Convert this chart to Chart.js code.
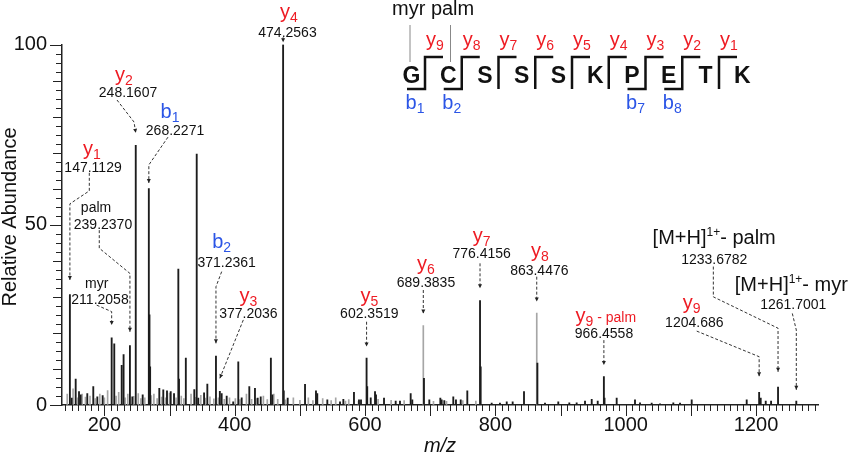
<!DOCTYPE html>
<html>
<head>
<meta charset="utf-8">
<script src="https://cdn.jsdelivr.net/npm/chart.js@4.4.1/dist/chart.umd.min.js"></script>
<style>
  html, body { margin: 0; padding: 0; background: #fff; }
  #wrap { width: 850px; height: 459px; }
</style>
</head>
<body>
<div id="wrap"><canvas id="spectrum" width="850" height="459"></canvas></div>
<script>
// spectrum peaks: m/z and relative abundance (%)
const peakMz = [
  147.11, 149.9, 156.0, 161.1, 163.7, 173.8, 183.0, 189.2, 197.4, 211.21,
  215.2, 226.6, 229.5, 239.24, 242.9, 248.16, 258.8, 268.23, 269.23, 270.23,
  284.3, 290.4, 296.1, 301.8, 306.9, 313.5, 314.5, 325.0, 338.0, 341.7,
  344.1, 353.0, 358.0, 371.24, 377.20, 380.0, 387.7, 397.7, 405.5, 410.7,
  422.4, 431.1, 435.3, 439.9, 455.5, 457.7, 474.26, 475.26, 481.3, 507.9,
  524.7, 526.7, 542.1, 561.6, 566.7, 583.0, 590.7, 593.8, 602.35, 603.35,
  608.7, 615.3, 616.8, 629.1, 647.0, 653.6, 670.0, 672.5, 690.39, 698.6,
  715.5, 717.6, 721.6, 735.4, 739.5, 746.8, 756.9, 776.42, 777.42, 794.3,
  807.0, 817.4, 826.5, 843.9, 864.45, 876.1, 896.5, 913.4, 924.7, 937.5,
  947.8, 957.0, 966.46, 967.46, 986.1, 1014.2, 1021.9, 1039.8, 1052.6, 1073.0,
  1083.3, 1101.2, 1185.6, 1204.69, 1207.1, 1214.8, 1223.0, 1233.68, 1261.70
];
const peakAbund = [
  30.6, 1.9, 7.2, 3.7, 2.8, 3.2, 5.1, 2.3, 2.6, 18.6,
  17.0, 11.0, 14.0, 16.5, 2.3, 72.0, 2.8, 60.0, 25.0, 10.6,
  4.6, 4.2, 3.9, 3.7, 3.2, 37.7, 7.2, 13.0, 4.3, 69.6,
  1.9, 3.4, 5.8, 13.6, 3.8, 3.2, 2.5, 0.9, 12.0, 2.0,
  5.1, 4.6, 1.9, 2.3, 13.0, 2.8, 100.0, 3.9, 1.9, 5.7,
  3.9, 3.2, 1.4, 0.9, 1.6, 3.5, 1.4, 1.4, 13.0, 5.1,
  2.0, 3.7, 2.8, 1.9, 1.1, 1.1, 3.2, 1.4, 7.4, 1.4,
  1.9, 1.4, 1.2, 2.3, 1.4, 1.4, 3.9, 29.0, 10.6, 0.5,
  0.5, 0.9, 0.9, 3.7, 11.6, 0.5, 0.9, 0.6, 0.6, 1.1,
  1.6, 1.1, 7.9, 1.9, 1.9, 1.4, 0.6, 0.5, 0.3, 0.6,
  0.5, 1.4, 1.4, 3.5, 1.9, 1.1, 1.1, 5.0, 1.1
];
// lighter (grey) traces
const faintMz = [
  143, 152, 159, 166, 171, 178, 186, 193, 200, 205, 218, 222, 232, 236, 245, 252,
  256, 262, 272, 276, 281, 288, 294, 300, 310, 318, 322, 333, 340, 348, 355,
  362, 368, 375, 384, 392, 401, 408, 418, 426, 434, 444, 450, 460, 466, 478,
  490, 500, 513, 520, 535, 548, 555, 570, 575, 590, 620, 640, 660, 689.38,
  705, 725, 750, 770, 863.45
];
const faintAbund = [
  3.0, 4.5, 2.0, 3.0, 2.2, 2.5, 1.8, 3.0, 2.0, 4.0, 2.5, 3.5, 2.0, 3.0, 2.4, 3.2,
  1.8, 2.0, 2.6, 3.0, 1.8, 2.2, 2.0, 3.3, 2.0, 2.5, 1.8, 3.0, 2.1, 2.7, 1.9,
  2.3, 1.7, 2.0, 1.6, 2.0, 1.8, 1.5, 3.0, 1.6, 1.8, 2.5, 1.5, 3.0, 1.6, 1.4,
  2.0, 1.3, 2.0, 1.2, 1.8, 1.2, 2.0, 1.1, 1.5, 1.0, 1.6, 1.3, 1.2, 22.0,
  1.0, 1.0, 1.2, 1.1, 25.5
];
const xTickLabels = [200, 400, 600, 800, 1000, 1200];
const yTickLabels = [0, 50, 100];

// peptide sequence inset
const residues = ['G', 'C', 'S', 'S', 'S', 'K', 'P', 'E', 'T', 'K'];
const yIonNums = ['9', '8', '7', '6', '5', '4', '3', '2', '1'];
const bIonNums = ['1', '2', '', '', '', '', '7', '8', ''];

const RED = '#ee1c24';
const BLUE = '#2b55e6';
const INK = '#111';
const FONT = '"Liberation Sans", Arial, Helvetica, sans-serif';

// ion labels, placed in data units (m/z, %)
const ionLabels = [
  { parts: [['y', 'big'], ['4', 'sub']], color: RED, at: [483.3, 108.6], text: '474.2563', textAt: [481, 103.5], leader: [[474.26, 102.0], [474.26, 100.6]] },
  { parts: [['y', 'big'], ['2', 'sub']], color: RED, at: [230.1, 91.3], text: '248.1607', textAt: [236.3, 86.8], leader: [[219.4, 84.6], [245.5, 78.5], [248.16, 75.5]] },
  { parts: [['b', 'big'], ['1', 'sub']], color: BLUE, at: [300.7, 81.0], text: '268.2271', textAt: [308.4, 76.3], leader: [[297.6, 74.3], [268.23, 66.6], [268.23, 61.6]] },
  { parts: [['y', 'big'], ['1', 'sub']], color: RED, at: [181, 70.7], text: '147.1129', textAt: [182.6, 66.0], leader: [[176.9, 64.4], [176.9, 59.4], [147.11, 55.8], [147.11, 34.7]] },
  { parts: [['palm', 'small']], color: INK, at: [187.2, 54.9], text: '239.2370', textAt: [197.9, 50.2], leader: [[192.2, 48.5], [192.2, 43.5], [239.24, 36.5], [239.24, 20.3]] },
  { parts: [['myr', 'small']], color: INK, at: [188.2, 33.8], text: '211.2058', textAt: [193.3, 29.3], leader: [[188.2, 27.7], [211.21, 25.9], [211.21, 22.2]] },
  { parts: [['b', 'big'], ['2', 'sub']], color: BLUE, at: [380, 45.0], text: '371.2361', textAt: [387.7, 39.8], leader: [[380, 37.0], [371.24, 32.8], [371.24, 17.1]] },
  { parts: [['y', 'big'], ['3', 'sub']], color: RED, at: [420.9, 30.0], text: '377.2036', textAt: [420.9, 25.4], leader: [[413.2, 23.6], [377.2, 7.4]] },
  { parts: [['y', 'big'], ['5', 'sub']], color: RED, at: [606.5, 30.0], text: '602.3519', textAt: [606.5, 25.4], leader: [[602.35, 23.1], [602.35, 16.2]] },
  { parts: [['y', 'big'], ['6', 'sub']], color: RED, at: [693.5, 38.8], text: '689.3835', textAt: [693.5, 34.2], leader: [[689.38, 31.9], [689.38, 25.4]] },
  { parts: [['y', 'big'], ['7', 'sub']], color: RED, at: [779, 46.7], text: '776.4156', textAt: [779, 42.1], leader: [[776.42, 39.3], [776.42, 32.4]] },
  { parts: [['y', 'big'], ['8', 'sub']], color: RED, at: [868.4, 42.5], text: '863.4476', textAt: [867.4, 37.4], leader: [[863.45, 35.6], [863.45, 28.7]] },
  { parts: [['y', 'big'], ['9', 'sub'], [' - palm', 'small']], color: RED, at: [969.4, 24.5], text: '966.4558', textAt: [966.6, 19.9], leader: [[966.46, 18.0], [966.46, 11.1]] },
  { parts: [['y', 'big'], ['9', 'sub']], color: RED, at: [1101.2, 28.0], text: '1204.686', textAt: [1105.2, 23.1], leader: [[1108.9, 20.5], [1204.69, 13.4], [1204.69, 8.0]] },
  { parts: [['[M+H]', 'big'], ['1+', 'sup'], ['- palm', 'big']], color: INK, at: [1135.7, 46.0], text: '1233.6782', textAt: [1135.9, 40.4], leader: [[1134.4, 38.4], [1134.4, 30.0], [1233.68, 21.3], [1233.68, 9.2]] },
  { parts: [['[M+H]', 'big'], ['1+', 'sup'], ['- myr', 'big']], color: INK, at: [1254.1, 33.0], text: '1261.7001', textAt: [1257.1, 28.0], leader: [[1255.6, 25.4], [1261.7, 20.8], [1261.7, 4.2]] }
];

const partFont = { big: 20, sub: 14, small: 14, sup: 12 };
const partShift = { big: 0, sub: 4, small: 0, sup: -8 };

function drawParts(ctx, parts, color, cx, cy) {
  let total = 0;
  parts.forEach(p => {
    ctx.font = partFont[p[1]] + 'px ' + FONT;
    total += ctx.measureText(p[0]).width;
  });
  let xx = cx - total / 2;
  ctx.fillStyle = color;
  ctx.textAlign = 'left';
  ctx.textBaseline = 'alphabetic';
  parts.forEach(p => {
    ctx.font = partFont[p[1]] + 'px ' + FONT;
    ctx.fillText(p[0], xx, cy + 5 + partShift[p[1]]);
    xx += ctx.measureText(p[0]).width;
  });
}

function drawLeader(ctx, pts) {
  ctx.save();
  ctx.strokeStyle = '#333';
  ctx.lineWidth = 1;
  ctx.setLineDash([3, 2]);
  ctx.beginPath();
  pts.forEach((p, i) => i ? ctx.lineTo(p[0], p[1]) : ctx.moveTo(p[0], p[1]));
  ctx.stroke();
  // arrow head on the last segment
  const a = pts[pts.length - 2], b = pts[pts.length - 1];
  const ang = Math.atan2(b[1] - a[1], b[0] - a[0]);
  ctx.setLineDash([]);
  ctx.fillStyle = '#222';
  ctx.beginPath();
  ctx.moveTo(b[0], b[1]);
  ctx.lineTo(b[0] - 4 * Math.cos(ang) + 2 * Math.sin(ang), b[1] - 4 * Math.sin(ang) - 2 * Math.cos(ang));
  ctx.lineTo(b[0] - 4 * Math.cos(ang) - 2 * Math.sin(ang), b[1] - 4 * Math.sin(ang) + 2 * Math.cos(ang));
  ctx.closePath();
  ctx.fill();
  ctx.restore();
}

// ticks and axis titles
const axisDecor = {
  id: 'axisDecor',
  afterDraw(chart) {
    const { ctx, scales: { x, y } } = chart;
    ctx.save();
    ctx.strokeStyle = '#222';
    ctx.lineWidth = 1;
    for (let v = 0; v <= 100.01; v += 2.5) {
      const py = Math.round(y.getPixelForValue(v)) + 0.5;
      const len = v % 50 === 0 ? 12 : (v % 10 === 0 ? 9 : 6);
      ctx.beginPath();
      ctx.moveTo(x.left, py);
      ctx.lineTo(x.left - len, py);
      ctx.stroke();
    }
    for (let m = 140; m <= x.max; m += 10) {
      const px = Math.round(x.getPixelForValue(m)) + 0.5;
      const len = m % 100 === 0 ? 11 : 6;
      ctx.beginPath();
      ctx.moveTo(px, y.bottom);
      ctx.lineTo(px, y.bottom + len);
      ctx.stroke();
    }
    ctx.fillStyle = INK;
    ctx.font = '20px ' + FONT;
    ctx.textAlign = 'center';
    ctx.textBaseline = 'middle';
    ctx.save();
    ctx.translate(10, 217);
    ctx.rotate(-Math.PI / 2);
    ctx.fillText('Relative Abundance', 0, 0);
    ctx.restore();
    ctx.font = 'italic 20px ' + FONT;
    ctx.fillText('m/z', (x.left + x.right) / 2, 446);
    ctx.restore();
  }
};

// peak labels and the sequence inset
const ionDecor = {
  id: 'ionDecor',
  afterDraw(chart) {
    const { ctx, scales: { x, y } } = chart;
    ctx.save();
    ionLabels.forEach(a => {
      drawLeader(ctx, a.leader.map(p => [x.getPixelForValue(p[0]), y.getPixelForValue(p[1])]));
      drawParts(ctx, a.parts, a.color, x.getPixelForValue(a.at[0]), y.getPixelForValue(a.at[1]));
      drawParts(ctx, [[a.text, 'small']], INK, x.getPixelForValue(a.textAt[0]), y.getPixelForValue(a.textAt[1]));
    });

    // sequence G C S S S K P E T K
    const gap0 = 425, step = 36.75, top = 57, bot = 89;
    ctx.strokeStyle = '#888';
    ctx.lineWidth = 1;
    [410, 450.5].forEach(px => {
      ctx.beginPath();
      ctx.moveTo(px, 25);
      ctx.lineTo(px, 62);
      ctx.stroke();
    });
    ctx.fillStyle = INK;
    ctx.font = '20px ' + FONT;
    ctx.textAlign = 'left';
    ctx.textBaseline = 'alphabetic';
    ctx.fillText('myr palm', 392, 15);

    ctx.font = 'bold 23px ' + FONT;
    ctx.textAlign = 'center';
    residues.forEach((r, i) => ctx.fillText(r, gap0 + i * step - 13.5, 83));

    ctx.strokeStyle = '#111';
    ctx.lineWidth = 2.5;
    ctx.lineCap = 'butt';
    yIonNums.forEach((n, i) => {
      const gx = gap0 + i * step;
      ctx.beginPath();
      if (bIonNums[i]) {
        ctx.moveTo(gx - 18, bot);
        ctx.lineTo(gx, bot);
      } else {
        ctx.moveTo(gx, bot);
      }
      ctx.lineTo(gx, top);
      ctx.lineTo(gx + 18, top);
      ctx.stroke();
      drawParts(ctx, [['y', 'big'], [n, 'sub']], RED, gx + 10, 41);
      if (bIonNums[i]) drawParts(ctx, [['b', 'big'], [bIonNums[i], 'sub']], BLUE, gx - 10, 104);
    });
    ctx.restore();
  }
};

new Chart(document.getElementById('spectrum'), {
  type: 'bar',
  data: {
    datasets: [
      {
        label: 'grey',
        data: faintMz.map((m, i) => ({ x: m, y: faintAbund[i] })),
        backgroundColor: '#a6a6a6',
        barThickness: 1,
        grouped: false,
        order: 2
      },
      {
        label: 'peaks',
        data: peakMz.map((m, i) => ({ x: m, y: peakAbund[i] })),
        backgroundColor: '#1c1c1c',
        barThickness: 1.2,
        grouped: false,
        order: 1
      }
    ]
  },
  options: {
    responsive: false,
    animation: false,
    layout: { padding: { top: 44.5, right: 32, left: 0, bottom: 0 } },
    plugins: { legend: { display: false }, tooltip: { enabled: false } },
    scales: {
      x: {
        type: 'linear',
        min: 135,
        max: 1295,
        offset: false,
        afterFit(s) { s.height = 54; },
        afterBuildTicks(s) { s.ticks = xTickLabels.map(v => ({ value: v })); },
        grid: { display: true, drawOnChartArea: false, drawTicks: false, offset: false },
        border: { display: true, color: '#222', width: 1.5 },
        ticks: { font: { family: FONT, size: 20 }, color: INK, padding: 8, maxRotation: 0, autoSkip: false, callback: v => String(v) }
      },
      y: {
        min: 0,
        max: 100,
        afterFit(s) { s.width = 62; },
        afterBuildTicks(s) { s.ticks = yTickLabels.map(v => ({ value: v })); },
        grid: { display: true, drawOnChartArea: false, drawTicks: false },
        border: { display: true, color: '#222', width: 1.5 },
        ticks: { font: { family: FONT, size: 20 }, color: INK, padding: 15, callback: v => String(v) }
      }
    }
  },
  plugins: [axisDecor, ionDecor]
});
</script>
</body>
</html>
